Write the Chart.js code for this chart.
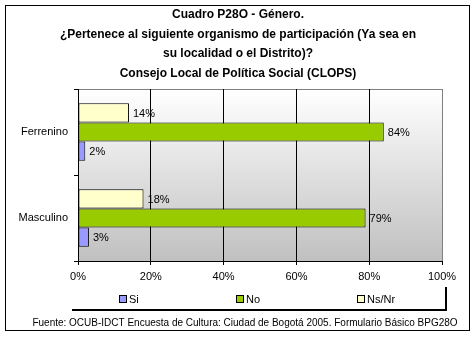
<!DOCTYPE html>
<html>
<head>
<meta charset="utf-8">
<script src="https://cdn.jsdelivr.net/npm/chart.js@4.4.0/dist/chart.umd.min.js"></script>
<style>
  body { margin: 0; background: #fff; }
</style>
</head>
<body>
<canvas id="chart" width="476" height="338"></canvas>
<script>
// Data
const categories = ["Ferrenino", "Masculino"];
const siValues = [2, 3];
const noValues = [84, 79];
const nsnrValues = [14, 18];
const xTicks = [0, 20, 40, 60, 80, 100];

const titleLines = [
    "Cuadro P28O - Género.",
    "¿Pertenece al siguiente organismo de participación (Ya sea en",
    "su localidad o el Distrito)?",
    "Consejo Local de Política Social (CLOPS)"
];
const sourceText = "Fuente: OCUB-IDCT Encuesta de Cultura: Ciudad de Bogotá 2005. Formulario Básico BPG28O";

const FONT = "'Liberation Sans', Arial, sans-serif";

// Excel draws the first series at the bottom of each group, Chart.js at the top
const datasets = [
    { label: "Ns/Nr", data: nsnrValues, backgroundColor: "#ffffcc" },
    { label: "No", data: noValues, backgroundColor: "#99cc00" },
    { label: "Si", data: siValues, backgroundColor: "#9999ff" }
].map(d => ({
    ...d,
    borderColor: "#000",
    borderWidth: 1,
    borderSkipped: false,
    categoryPercentage: 0.67,
    barPercentage: 1
}));

// background, value labels, legend, source and frame
const decoPlugin = {
    id: "deco",
    beforeDraw(chart) {
        const { ctx, chartArea: a } = chart;
        ctx.save();
        ctx.fillStyle = "#fff";
        ctx.fillRect(0, 0, chart.width, chart.height);
        const g = ctx.createLinearGradient(0, a.top, 0, a.bottom);
        g.addColorStop(0, "#ffffff");
        g.addColorStop(1, "#c0c0c0");
        ctx.fillStyle = g;
        ctx.fillRect(a.left, a.top, a.right - a.left, a.bottom - a.top);
        ctx.strokeStyle = "#808080";
        ctx.lineWidth = 1;
        ctx.beginPath();
        ctx.moveTo(a.left, a.top + 0.5);
        ctx.lineTo(a.right + 1, a.top + 0.5);
        ctx.stroke();
        ctx.restore();
    },
    afterDatasetsDraw(chart) {
        const ctx = chart.ctx;
        ctx.save();
        ctx.font = "11px " + FONT;
        ctx.fillStyle = "#000";
        ctx.textBaseline = "middle";
        chart.data.datasets.forEach((ds, i) => {
            chart.getDatasetMeta(i).data.forEach((bar, j) => {
                ctx.fillText(ds.data[j] + "%", bar.x + 4, bar.y + 1);
            });
        });
        ctx.restore();
    },
    afterDraw(chart) {
        const ctx = chart.ctx;
        ctx.save();
        // legend box shadow
        ctx.fillStyle = "#000";
        ctx.fillRect(72, 309, 375, 2);
        ctx.fillRect(445, 287, 2, 24);
        // legend items, in Excel order
        const xs = [119, 236, 357];
        const items = chart.data.datasets.slice().reverse();
        ctx.font = "11px " + FONT;
        ctx.textBaseline = "middle";
        items.forEach((ds, i) => {
            ctx.fillStyle = ds.backgroundColor;
            ctx.fillRect(xs[i] + 0.5, 295.5, 7, 7);
            ctx.strokeStyle = "#000";
            ctx.lineWidth = 1;
            ctx.strokeRect(xs[i] + 0.5, 295.5, 7, 7);
            ctx.fillStyle = "#000";
            ctx.fillText(ds.label, xs[i] + 10, 299.5);
        });
        // source
        ctx.font = "10px " + FONT;
        ctx.textAlign = "center";
        ctx.fillText(sourceText, 245, 323);
        // outer frame
        ctx.strokeStyle = "#000";
        ctx.lineWidth = 1;
        ctx.strokeRect(5.5, 5.5, 464, 325);
        ctx.restore();
    }
};

new Chart(document.getElementById("chart"), {
    type: "bar",
    data: { labels: categories, datasets: datasets },
    options: {
        indexAxis: "y",
        responsive: false,
        devicePixelRatio: 1,
        animation: false,
        layout: { padding: 0 },
        plugins: {
            legend: { display: false },
            tooltip: { enabled: false },
            title: {
                display: true,
                text: titleLines,
                color: "#000",
                font: { family: FONT, size: 12, weight: "bold", lineHeight: 1.625 },
                padding: { top: 5, bottom: 6 }
            }
        },
        scales: {
            x: {
                min: 0,
                max: 100,
                afterBuildTicks: s => { s.ticks = xTicks.map(v => ({ value: v })); },
                afterFit: s => { s.height = 77; },
                ticks: {
                    color: "#000",
                    font: { family: FONT, size: 11 },
                    padding: 5,
                    maxRotation: 0,
                    callback: v => v + "%"
                },
                grid: {
                    color: c => (c.tick && c.tick.value === 100 ? "#808080" : "#000"),
                    tickColor: "#000",
                    tickLength: 4
                },
                border: { color: "#000" }
            },
            y: {
                afterFit: s => { s.width = 78; },
                ticks: {
                    color: "#000",
                    font: { family: FONT, size: 11 },
                    padding: 6
                },
                grid: {
                    drawOnChartArea: false,
                    color: "#000",
                    tickLength: 4
                },
                border: { color: "#000" }
            },
            // empty right-hand margin so the title centres on the whole picture
            yRight: {
                type: "category",
                position: "right",
                afterFit: s => { s.width = 34; },
                ticks: { display: false },
                grid: { display: false },
                border: { display: false }
            }
        }
    },
    plugins: [decoPlugin]
});
</script>
</body>
</html>
